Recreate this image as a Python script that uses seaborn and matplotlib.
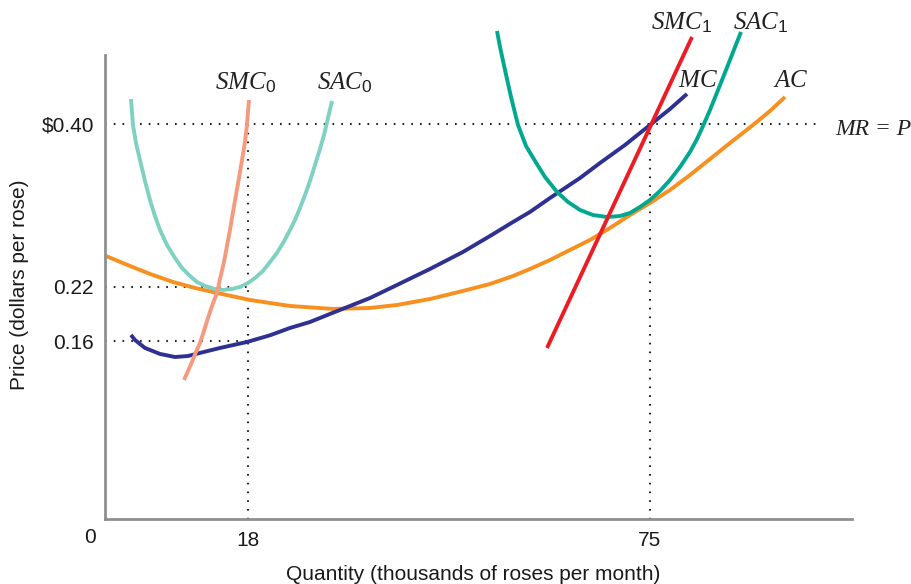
import matplotlib
matplotlib.use("Agg")
import matplotlib.pyplot as plt
import seaborn as sns
import pandas as pd

# ---- data (quantity in thousands of roses per month, price in $ per rose) ----
sac0_q = [1.405, 1.547, 1.688, 2.114, 2.681, 3.390, 4.100, 4.809, 5.518, 6.511, 7.645, 8.638,
          9.773, 10.766, 11.901, 13.177, 14.454, 15.730, 16.865, 18.000, 18.993, 20.128, 21.121,
          22.113, 22.965, 23.816, 24.667, 25.376, 26.085, 26.794, 27.504, 28.213, 28.780, 29.348, 29.915]
sac0_p = [0.4276, 0.4133, 0.3989, 0.3790, 0.3602, 0.3370, 0.3160, 0.2983, 0.2829, 0.2663, 0.2519,
          0.2409, 0.2320, 0.2254, 0.2210, 0.2177, 0.2166, 0.2177, 0.2199, 0.2243, 0.2298, 0.2376,
          0.2475, 0.2575, 0.2685, 0.2807, 0.2939, 0.3072, 0.3215, 0.3370, 0.3547, 0.3724, 0.3878,
          0.4066, 0.4254]

smc0_q = [8.922, 9.489, 10.057, 10.624, 11.191, 11.759, 12.326, 12.894, 13.603, 14.028, 14.596,
          15.021, 15.447, 15.872, 16.298, 16.723, 17.149, 17.574, 17.858, 18.000, 18.142]
smc0_p = [0.1171, 0.1271, 0.1370, 0.1481, 0.1580, 0.1713, 0.1856, 0.1989, 0.2133, 0.2287, 0.2475,
          0.2652, 0.2829, 0.3028, 0.3215, 0.3403, 0.3602, 0.3801, 0.3989, 0.4133, 0.4265]

mc_q = [1.405, 1.972, 2.681, 3.390, 4.100, 5.518, 7.645, 9.489, 11.191, 14.028, 17.858, 21.121,
        23.957, 26.794, 29.631, 32.468, 35.305, 39.134, 43.815, 48.496, 52.326, 55.588, 58.000,
        60.837, 65.092, 67.929, 71.475, 75.021, 77.858, 80.270]
mc_p = [0.1669, 0.1613, 0.1569, 0.1525, 0.1503, 0.1459, 0.1425, 0.1436, 0.1470, 0.1525, 0.1591,
        0.1665, 0.1746, 0.1812, 0.1901, 0.1989, 0.2077, 0.2221, 0.2398, 0.2586, 0.2762, 0.2917,
        0.3028, 0.3182, 0.3403, 0.3569, 0.3768, 0.3989, 0.4166, 0.4332]

ac_q = [-2.142, 1.263, 4.100, 7.362, 10.482, 13.603, 18.284, 23.957, 30.057, 35.305, 39.134,
        43.815, 48.496, 52.326, 55.588, 58.000, 60.837, 63.674, 66.511, 69.348, 72.184, 75.021,
        77.858, 80.695, 83.532, 86.369, 89.631, 92.043, 94.170]
ac_p = [0.2541, 0.2431, 0.2343, 0.2254, 0.2188, 0.2133, 0.2055, 0.1989, 0.1956, 0.1967, 0.2000,
        0.2066, 0.2155, 0.2232, 0.2320, 0.2398, 0.2497, 0.2608, 0.2718, 0.2851, 0.2994, 0.3127,
        0.3271, 0.3436, 0.3613, 0.3790, 0.3989, 0.4144, 0.4298]

sac1_q = [53.319, 53.745, 54.454, 55.305, 56.298, 57.433, 58.709, 60.128, 61.830, 63.390, 65.092,
          66.936, 68.922, 70.766, 72.184, 73.603, 75.021, 76.440, 77.858, 79.277, 80.695, 81.688,
          82.539, 83.532, 84.383, 85.234, 86.085, 87.078, 87.929]
sac1_p = [0.5028, 0.4851, 0.4597, 0.4298, 0.3989, 0.3757, 0.3591, 0.3414, 0.3249, 0.3138, 0.3050,
          0.2994, 0.2972, 0.2983, 0.3017, 0.3083, 0.3160, 0.3260, 0.3381, 0.3525, 0.3691, 0.3834,
          0.3978, 0.4155, 0.4320, 0.4486, 0.4652, 0.4851, 0.5017]

smc1_q = [60.41, 80.98]
smc1_p = [0.1525, 0.4961]

price_ticks = [0.16, 0.22, 0.40]
price_labels = ["0.16", "0.22", "$0.40"]
qty_ticks = [18, 75]
qty_labels = ["18", "75"]
market_price = 0.40

# ---- style ----
sns.set_theme(style="white")
plt.rcParams["font.family"] = ["Liberation Sans", "DejaVu Sans"]
plt.rcParams["mathtext.fontset"] = "custom"
plt.rcParams["mathtext.it"] = "Liberation Serif:italic"
plt.rcParams["mathtext.rm"] = "Liberation Sans"
plt.rcParams["mathtext.sf"] = "Liberation Sans"

W, H = 912, 584
fig = plt.figure(figsize=(W / 100, H / 100), dpi=100)
ax = fig.add_axes([105 / W, 65 / H, 747 / W, 519 / H])
xmin, xmax = -2.28, 103.67
ymin, ymax = -0.0365, 0.5370
ax.set_xlim(xmin, xmax)
ax.set_ylim(ymin, ymax)

lw = 2.8
curves = [
    (ac_q, ac_p, "#f7901e"),
    (mc_q, mc_p, "#2e3192"),
    (sac0_q, sac0_p, "#7fd1c1"),
    (smc0_q, smc0_p, "#f59a7e"),
    (sac1_q, sac1_p, "#00a88f"),
    (smc1_q, smc1_p, "#ed1c24"),
]
for q, p, c in curves:
    df = pd.DataFrame({"q": q, "p": p})
    sns.lineplot(data=df, x="q", y="p", sort=False, estimator=None, color=c,
                 lw=lw, ax=ax, solid_capstyle="butt", solid_joinstyle="round",
                 clip_on=False)

# dotted guide lines
dot = dict(color="#222222", lw=1.5, linestyle=(0, (0.8, 3.4)), dash_capstyle="butt", zorder=1)
ax.plot([xmin, 99.4], [market_price, market_price], **dot)
ax.plot([xmin, qty_ticks[0]], [price_ticks[1], price_ticks[1]], **dot)
ax.plot([xmin, qty_ticks[0]], [price_ticks[0], price_ticks[0]], **dot)
ax.plot([qty_ticks[0], qty_ticks[0]], [market_price, ymin], **dot)
ax.plot([qty_ticks[1], qty_ticks[1]], [market_price, ymin], **dot)

# axes styling
for s in ["top", "right"]:
    ax.spines[s].set_visible(False)
for s in ["left", "bottom"]:
    ax.spines[s].set_color("#8f8f8f")
    ax.spines[s].set_linewidth(2.0)
ax.spines["left"].set_bounds(ymin, 0.4762)

ax.set_yticks(price_ticks)
ax.set_yticklabels(price_labels)
ax.set_xticks(qty_ticks)
ax.set_xticklabels(qty_labels)
ax.tick_params(axis="both", length=0, labelsize=15, colors="#1a1a1a")
ax.tick_params(axis="y", pad=8)
ax.tick_params(axis="x", pad=9)
ax.text(-4.4, -0.0564, "0", ha="center", va="center", fontsize=15, color="#1a1a1a")

ax.set_xlabel("Quantity (thousands of roses per month)", fontsize=15, color="#1a1a1a")
ax.set_ylabel("Price (dollars per rose)", fontsize=15, color="#1a1a1a")
ax.xaxis.set_label_coords(0.4926, -0.0886)
ax.yaxis.set_label_coords(-0.1017, 0.451)

# curve labels
lab = dict(fontsize=18, color="#222222", ha="left", va="baseline")
ax.text(13.32, 0.4387, r"$\mathit{SMC}_{\mathrm{0}}$", **lab)
ax.text(27.79, 0.4387, r"$\mathit{SAC}_{\mathrm{0}}$", **lab)
ax.text(75.16, 0.505, r"$\mathit{SMC}_{\mathrm{1}}$", **lab)
ax.text(86.79, 0.505, r"$\mathit{SAC}_{\mathrm{1}}$", **lab)
ax.text(78.99, 0.4409, r"$\mathit{MC}$", **lab)
ax.text(92.47, 0.4409, r"$\mathit{AC}$", **lab)
ax.text(101.26, 0.3878, "MR = P", family="Liberation Serif", style="italic",
        fontsize=17, color="#222222", ha="left", va="baseline", clip_on=False)

fig.savefig("out.png", dpi=100)
